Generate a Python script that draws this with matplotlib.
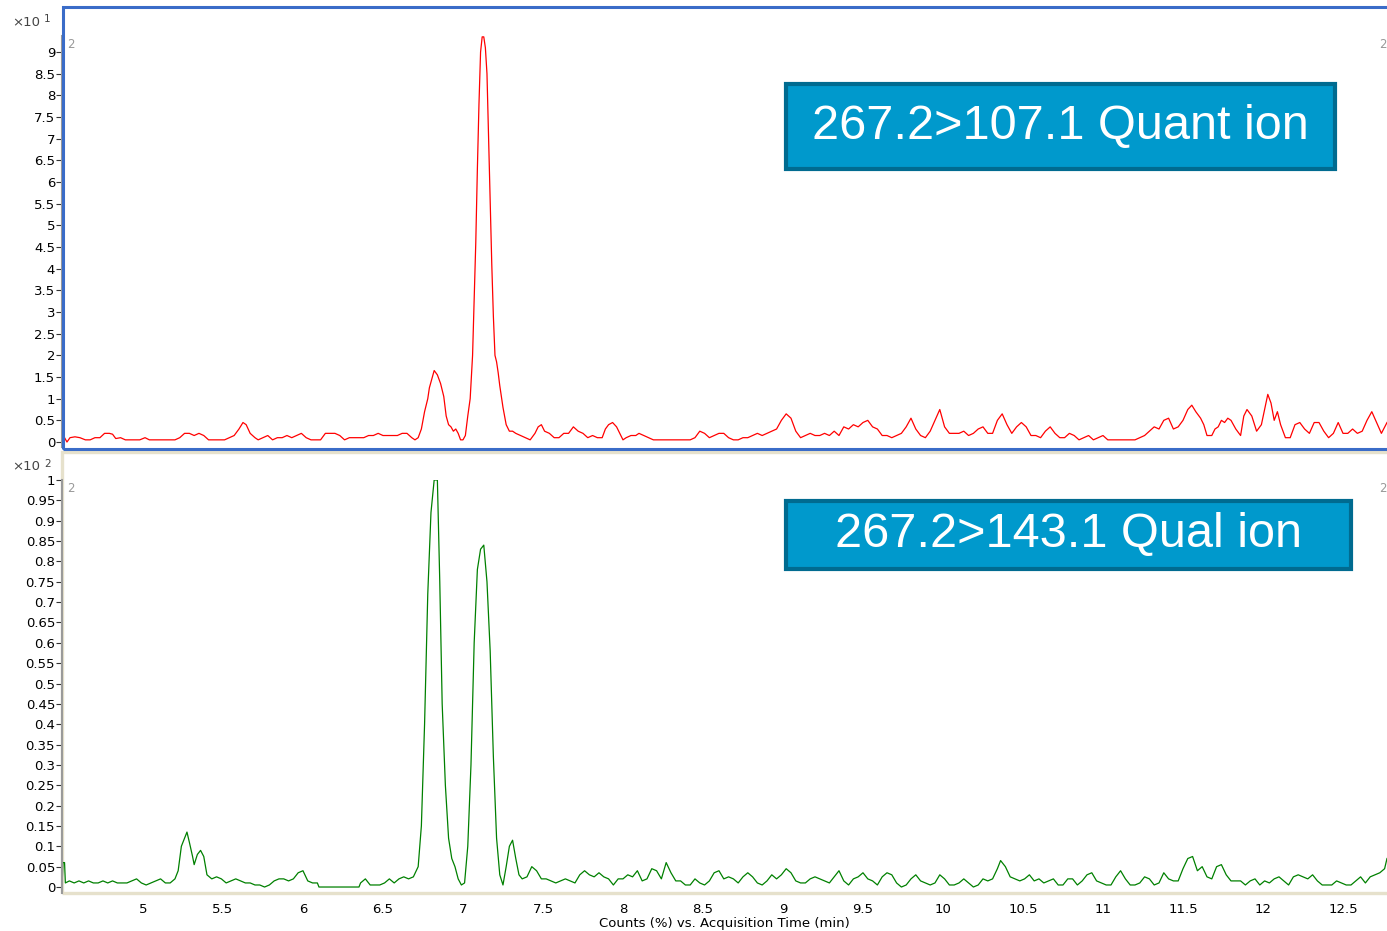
import numpy as np
import matplotlib
matplotlib.use("Agg")
import matplotlib.pyplot as plt
from matplotlib.patches import Rectangle

# Trace du haut (267.2>107.1), valeurs en x10^1
temps_quant = [
    4.494, 4.51, 4.525, 4.544, 4.575, 4.606, 4.64, 4.67, 4.70, 4.731, 4.76, 4.79, 4.81, 4.83,
    4.86, 4.89, 4.92, 4.95, 4.98, 5.013, 5.04, 5.07, 5.10, 5.13, 5.17, 5.20, 5.23, 5.26, 5.29,
    5.32, 5.35, 5.38, 5.41, 5.45, 5.48, 5.51, 5.54, 5.57, 5.60, 5.625, 5.645, 5.67, 5.70, 5.72,
    5.75, 5.78, 5.81, 5.84, 5.87, 5.90, 5.93, 5.96, 5.99, 6.02, 6.05, 6.08, 6.11, 6.14, 6.17,
    6.20, 6.23, 6.26, 6.29, 6.32, 6.35, 6.38, 6.41, 6.44, 6.47, 6.50, 6.53, 6.56, 6.59, 6.62,
    6.65, 6.68, 6.70, 6.72, 6.74, 6.76, 6.78, 6.79, 6.805, 6.82, 6.84, 6.86, 6.88, 6.895, 6.91,
    6.925, 6.94, 6.955, 6.97, 6.985, 7.00, 7.015, 7.03, 7.045, 7.06, 7.07, 7.08, 7.09, 7.10,
    7.11, 7.12, 7.13, 7.14, 7.15, 7.16, 7.17, 7.18, 7.19, 7.20, 7.21, 7.22, 7.23, 7.25, 7.27,
    7.29, 7.31, 7.33, 7.36, 7.39, 7.42, 7.45, 7.47, 7.49, 7.51, 7.54, 7.57, 7.60, 7.63, 7.66,
    7.69, 7.72, 7.75, 7.78, 7.81, 7.84, 7.87, 7.89, 7.91, 7.935, 7.96, 7.98, 8.00, 8.02, 8.05,
    8.08, 8.10, 8.13, 8.16, 8.19, 8.42, 8.45, 8.48, 8.51, 8.54, 8.57, 8.60, 8.63, 8.66, 8.69,
    8.72, 8.75, 8.78, 8.81, 8.84, 8.87, 8.90, 8.93, 8.96, 8.99, 9.02, 9.05, 9.08, 9.11, 9.14,
    9.17, 9.20, 9.23, 9.26, 9.29, 9.32, 9.35, 9.38, 9.41, 9.44, 9.47, 9.50, 9.53, 9.56, 9.59,
    9.62, 9.65, 9.68, 9.71, 9.74, 9.77, 9.80, 9.83, 9.86, 9.89, 9.92, 9.95, 9.98, 10.01, 10.04,
    10.07, 10.10, 10.13, 10.16, 10.19, 10.22, 10.25, 10.28, 10.31, 10.34, 10.37, 10.40, 10.43,
    10.46, 10.49, 10.52, 10.55, 10.58, 10.61, 10.64, 10.67, 10.70, 10.73, 10.76, 10.79, 10.82,
    10.85, 10.88, 10.91, 10.94, 10.97, 11.00, 11.03, 11.20, 11.23, 11.26, 11.29, 11.32, 11.35,
    11.38, 11.41, 11.44, 11.47, 11.50, 11.53, 11.555, 11.58, 11.61, 11.63, 11.65, 11.68, 11.70,
    11.72, 11.74, 11.76, 11.78, 11.80, 11.83, 11.86, 11.88, 11.90, 11.93, 11.96, 11.99, 12.01,
    12.03, 12.05, 12.07, 12.09, 12.11, 12.14, 12.17, 12.20, 12.23, 12.26, 12.29, 12.32, 12.35,
    12.38, 12.41, 12.44, 12.47, 12.50, 12.53, 12.56, 12.59, 12.62, 12.65, 12.68, 12.71, 12.74,
    12.775,
]
signal_quant = [
    0.05, 0.1, 0.0, 0.1, 0.12, 0.1, 0.05, 0.05, 0.1, 0.1, 0.2, 0.2, 0.18, 0.08,
    0.1, 0.05, 0.05, 0.05, 0.05, 0.1, 0.05, 0.05, 0.05, 0.05, 0.05, 0.05, 0.1, 0.2, 0.2,
    0.15, 0.2, 0.15, 0.05, 0.05, 0.05, 0.05, 0.1, 0.15, 0.3, 0.45, 0.4, 0.2, 0.1, 0.05,
    0.1, 0.15, 0.05, 0.1, 0.1, 0.15, 0.1, 0.15, 0.2, 0.1, 0.05, 0.05, 0.05, 0.2, 0.2,
    0.2, 0.15, 0.05, 0.1, 0.1, 0.1, 0.1, 0.15, 0.15, 0.2, 0.15, 0.15, 0.15, 0.15, 0.2,
    0.2, 0.1, 0.05, 0.1, 0.3, 0.7, 1.0, 1.25, 1.45, 1.65, 1.55, 1.35, 1.05, 0.6, 0.4,
    0.35, 0.25, 0.3, 0.2, 0.05, 0.05, 0.15, 0.6, 1.0, 2.0, 3.3, 4.6, 6.3, 7.8,
    9.0, 9.35, 9.35, 9.1, 8.5, 7.0, 5.6, 4.1, 2.9, 2.0, 1.85, 1.6, 1.3, 0.8, 0.4,
    0.25, 0.25, 0.2, 0.15, 0.1, 0.05, 0.2, 0.35, 0.4, 0.25, 0.2, 0.1, 0.1, 0.2, 0.2,
    0.35, 0.25, 0.2, 0.1, 0.15, 0.1, 0.1, 0.3, 0.4, 0.45, 0.35, 0.2, 0.05, 0.1, 0.15,
    0.15, 0.2, 0.15, 0.1, 0.05, 0.05, 0.1, 0.25, 0.2, 0.1, 0.15, 0.2, 0.2, 0.1, 0.05,
    0.05, 0.1, 0.1, 0.15, 0.2, 0.15, 0.2, 0.25, 0.3, 0.5, 0.65, 0.55, 0.25, 0.1, 0.15,
    0.2, 0.15, 0.15, 0.2, 0.15, 0.25, 0.15, 0.35, 0.3, 0.4, 0.35, 0.45, 0.5, 0.35, 0.3,
    0.15, 0.15, 0.1, 0.15, 0.2, 0.35, 0.55, 0.3, 0.15, 0.1, 0.25, 0.5, 0.75, 0.35, 0.2,
    0.2, 0.2, 0.25, 0.15, 0.2, 0.3, 0.35, 0.2, 0.2, 0.5, 0.65, 0.4, 0.2,
    0.35, 0.45, 0.35, 0.15, 0.15, 0.1, 0.25, 0.35, 0.2, 0.1, 0.1, 0.2, 0.15,
    0.05, 0.1, 0.15, 0.05, 0.1, 0.15, 0.05, 0.05, 0.1, 0.15, 0.25, 0.35, 0.3,
    0.5, 0.55, 0.3, 0.35, 0.5, 0.75, 0.85, 0.7, 0.55, 0.4, 0.15, 0.15, 0.3,
    0.35, 0.5, 0.45, 0.55, 0.5, 0.3, 0.15, 0.6, 0.75, 0.6, 0.25, 0.4, 0.75,
    1.1, 0.9, 0.5, 0.7, 0.4, 0.1, 0.1, 0.4, 0.45, 0.3, 0.2, 0.45, 0.45,
    0.25, 0.1, 0.2, 0.45, 0.2, 0.2, 0.3, 0.2, 0.25, 0.5, 0.7, 0.45, 0.2,
    0.45,
]

# Trace du bas (267.2>143.1), valeurs en x10^2
temps_qual = [
    4.494, 4.50, 4.51, 4.515, 4.54, 4.57, 4.60, 4.63, 4.66, 4.69, 4.72, 4.75, 4.78, 4.81,
    4.84, 4.87, 4.90, 4.93, 4.96, 4.99, 5.02, 5.05, 5.08, 5.11, 5.14, 5.17, 5.20, 5.22, 5.24,
    5.26, 5.275, 5.29, 5.31, 5.32, 5.34, 5.36, 5.38, 5.40, 5.43, 5.46, 5.49, 5.52, 5.55, 5.58,
    5.61, 5.64, 5.67, 5.70, 5.73, 5.76, 5.79, 5.82, 5.85, 5.88, 5.91, 5.94, 5.97, 6.00, 6.03,
    6.06, 6.09, 6.10, 6.35, 6.36, 6.39, 6.42, 6.45, 6.48, 6.51, 6.54, 6.57, 6.60, 6.63, 6.66,
    6.69, 6.72, 6.74, 6.76, 6.78, 6.80, 6.82, 6.84, 6.855, 6.87, 6.89, 6.91, 6.93, 6.95, 6.97,
    6.99, 7.01, 7.03, 7.05, 7.07, 7.09, 7.11, 7.13, 7.15, 7.17, 7.19, 7.21, 7.23, 7.25, 7.27,
    7.29, 7.31, 7.33, 7.35, 7.37, 7.40, 7.43, 7.46, 7.49, 7.52, 7.55, 7.58, 7.61, 7.64, 7.67,
    7.70, 7.73, 7.76, 7.79, 7.82, 7.85, 7.88, 7.91, 7.94, 7.97, 8.00, 8.03, 8.06, 8.09, 8.12,
    8.15, 8.18, 8.21, 8.24, 8.27, 8.30, 8.33, 8.36, 8.39, 8.42, 8.45, 8.48, 8.51, 8.54, 8.57,
    8.60, 8.63, 8.66, 8.69, 8.72, 8.75, 8.78, 8.81, 8.84, 8.87, 8.90, 8.93, 8.96, 8.99, 9.02,
    9.05, 9.08, 9.11, 9.14, 9.17, 9.20, 9.23, 9.26, 9.29, 9.32, 9.35, 9.38, 9.41, 9.44, 9.47,
    9.50, 9.53, 9.56, 9.59, 9.62, 9.65, 9.68, 9.71, 9.74, 9.77, 9.80, 9.83, 9.86, 9.89, 9.92,
    9.95, 9.98, 10.01, 10.04, 10.07, 10.10, 10.13, 10.16, 10.19, 10.22, 10.25, 10.28, 10.31,
    10.34, 10.36, 10.39, 10.42, 10.45, 10.48, 10.51, 10.54, 10.57, 10.60, 10.63, 10.66, 10.69,
    10.72, 10.75, 10.78, 10.81, 10.84, 10.87, 10.90, 10.93, 10.96, 10.99, 11.02, 11.05, 11.08,
    11.11, 11.14, 11.17, 11.20, 11.23, 11.26, 11.29, 11.32, 11.35, 11.38, 11.41, 11.44, 11.47,
    11.50, 11.53, 11.56, 11.59, 11.62, 11.65, 11.68, 11.71, 11.74, 11.77, 11.80, 11.83, 11.86,
    11.89, 11.92, 11.95, 11.98, 12.01, 12.04, 12.07, 12.10, 12.13, 12.16, 12.19, 12.22, 12.25,
    12.28, 12.31, 12.34, 12.37, 12.40, 12.43, 12.46, 12.49, 12.52, 12.55, 12.58, 12.61, 12.64,
    12.67, 12.70, 12.73, 12.76, 12.775,
]
signal_qual = [
    0.0, 0.06, 0.06, 0.01, 0.015, 0.01, 0.015, 0.01, 0.015, 0.01, 0.01, 0.015, 0.01, 0.015,
    0.01, 0.01, 0.01, 0.015, 0.02, 0.01, 0.005, 0.01, 0.015, 0.02, 0.01, 0.01, 0.02, 0.04, 0.1,
    0.12, 0.135, 0.11, 0.075, 0.055, 0.08, 0.09, 0.075, 0.03, 0.02, 0.025, 0.02, 0.01, 0.015, 0.02,
    0.015, 0.01, 0.01, 0.005, 0.005, 0.0, 0.005, 0.015, 0.02, 0.02, 0.015, 0.02, 0.035, 0.04, 0.015,
    0.01, 0.01, 0.0, 0.0, 0.01, 0.02, 0.005, 0.005, 0.005, 0.01, 0.02, 0.01, 0.02, 0.025, 0.02,
    0.025, 0.05, 0.15, 0.4, 0.72, 0.92, 1.0, 1.0, 0.75, 0.45, 0.25, 0.12, 0.07, 0.05, 0.02,
    0.005, 0.01, 0.1, 0.3, 0.6, 0.78, 0.83, 0.84, 0.75, 0.58, 0.32, 0.12, 0.03, 0.005, 0.05,
    0.1, 0.115, 0.07, 0.03, 0.02, 0.025, 0.05, 0.04, 0.02, 0.02, 0.015, 0.01, 0.015, 0.02, 0.015,
    0.01, 0.03, 0.04, 0.03, 0.025, 0.035, 0.025, 0.02, 0.005, 0.02, 0.02, 0.03, 0.025, 0.04, 0.015,
    0.02, 0.045, 0.04, 0.02, 0.06, 0.035, 0.015, 0.015, 0.005, 0.005, 0.02, 0.01, 0.005, 0.015, 0.035,
    0.04, 0.02, 0.025, 0.02, 0.01, 0.025, 0.035, 0.025, 0.01, 0.005, 0.015, 0.03, 0.02, 0.03, 0.045,
    0.035, 0.015, 0.01, 0.01, 0.02, 0.025, 0.02, 0.015, 0.01, 0.025, 0.04, 0.015, 0.005, 0.02, 0.025,
    0.035, 0.02, 0.015, 0.005, 0.025, 0.035, 0.03, 0.01, 0.0, 0.005, 0.02, 0.03, 0.015, 0.01, 0.005,
    0.01, 0.03, 0.02, 0.005, 0.005, 0.01, 0.02, 0.01, 0.0, 0.005, 0.02, 0.015, 0.02,
    0.045, 0.065, 0.05, 0.025, 0.02, 0.015, 0.02, 0.03, 0.015, 0.02, 0.01, 0.015, 0.02,
    0.005, 0.005, 0.02, 0.02, 0.005, 0.015, 0.03, 0.035, 0.015, 0.01, 0.005, 0.005, 0.025,
    0.04, 0.02, 0.005, 0.005, 0.01, 0.025, 0.02, 0.005, 0.01, 0.035, 0.02, 0.015, 0.015,
    0.045, 0.07, 0.075, 0.04, 0.05, 0.025, 0.02, 0.05, 0.055, 0.03, 0.015, 0.015, 0.015,
    0.005, 0.015, 0.02, 0.005, 0.015, 0.01, 0.02, 0.025, 0.015, 0.005, 0.025, 0.03, 0.025,
    0.02, 0.03, 0.015, 0.005, 0.005, 0.005, 0.015, 0.01, 0.005, 0.005, 0.015, 0.025, 0.01,
    0.025, 0.03, 0.035, 0.045, 0.07,
]

ticks_x = np.arange(5, 12.51, 0.5)
ticks_quant = np.arange(0, 9.01, 0.5)
ticks_qual = np.arange(0, 1.001, 0.05)
etiquettes = ["267.2>107.1 Quant ion", "267.2>143.1 Qual ion"]

W, H = 1387, 931
fig = plt.figure(figsize=(W / 100, H / 100), dpi=100)

def fmt(v):
    return ("%.2f" % v).rstrip("0").rstrip(".")

def style_axe(ax, ticks):
    ax.set_facecolor("none")
    for s in ["top", "right", "bottom"]:
        ax.spines[s].set_visible(False)
    ax.spines["left"].set_color("#9a9a9a")
    ax.spines["left"].set_linewidth(1.5)
    ax.set_yticks(ticks)
    ax.set_yticklabels([fmt(v) for v in ticks], fontsize=9.5)
    ax.tick_params(axis="y", length=4, width=0.8, color="#333333", pad=1)
    ax.set_xlim(4.494, 12.775)

# Axe du haut
ax1 = fig.add_axes([62 / W, 1 - 447 / H, 1325 / W, 411 / H])
ax1.plot(temps_quant, signal_quant, color="red", linewidth=0.9)
style_axe(ax1, ticks_quant)
ax1.set_ylim(-0.115, 9.37)
ax1.set_xticks([])

# Axe du bas
ax2 = fig.add_axes([62 / W, 1 - 893 / H, 1325 / W, 413 / H])
ax2.plot(temps_qual, signal_qual, color="green", linewidth=0.9)
style_axe(ax2, ticks_qual)
ax2.set_ylim(-0.0147, 1.0)
ax2.set_xticks(ticks_x)
ax2.set_xticklabels([fmt(v) for v in ticks_x], fontsize=9.5)
ax2.tick_params(axis="x", length=0, pad=7)
ax2.set_xlabel("Counts (%) vs. Acquisition Time (min)", fontsize=9.5, labelpad=1)

# Cadres des deux panneaux
fig.add_artist(Rectangle((63 / W, 1 - 449 / H), 1340 / W, 442 / H, transform=fig.transFigure,
                         fill=False, edgecolor="#3a6cc8", linewidth=2.2))
fig.add_artist(Rectangle((62 / W, 1 - 893 / H), 1340 / W, 441 / H, transform=fig.transFigure,
                         fill=False, edgecolor="#e6e1cc", linewidth=2.4, zorder=0))

# Facteurs d'échelle et petits repères "2"
fig.text(12 / W, 1 - 22 / H, "×10", fontsize=9.5, color="#444444", va="center")
fig.text(44 / W, 1 - 19 / H, "1", fontsize=7.5, color="#444444", va="center")
fig.text(12 / W, 1 - 467 / H, "×10", fontsize=9.5, color="#444444", va="center")
fig.text(44 / W, 1 - 464 / H, "2", fontsize=7.5, color="#444444", va="center")
for y in [44, 488]:
    fig.text(67 / W, 1 - y / H, "2", fontsize=8.5, color="#999999", va="center")
    fig.text(1379 / W, 1 - y / H, "2", fontsize=8.5, color="#999999", va="center")

# Encadrés bleus
boites = [(786, 84, 549, 85), (786, 501, 565, 68)]
for (x, y, w, h), txt in zip(boites, etiquettes):
    fig.add_artist(Rectangle((x / W, 1 - (y + h) / H), w / W, h / H, transform=fig.transFigure,
                             facecolor="#0099cc", edgecolor="#006b90", linewidth=3))
    fig.text((x + w / 2) / W, 1 - (y + h / 2) / H, txt, fontsize=35, color="white",
             ha="center", va="center", family="Liberation Sans")

fig.savefig("out.png", dpi=100)
